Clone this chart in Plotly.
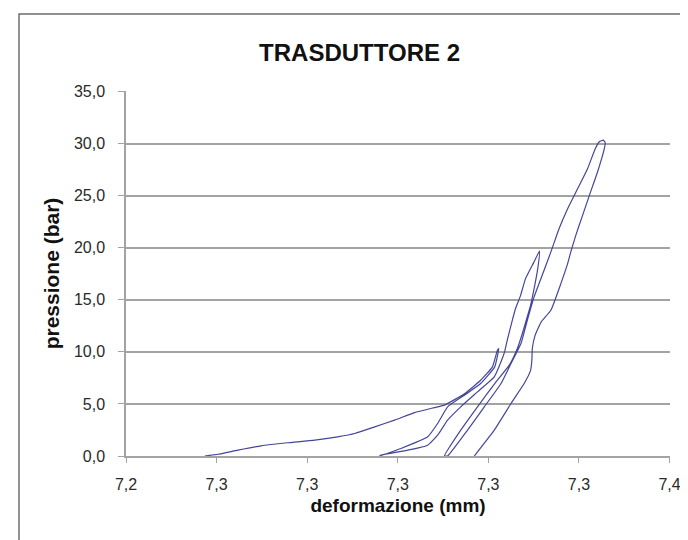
import plotly.graph_objects as go

# ---- data (deformazione in mm, pressione in bar) ----
load1_x = [7.2574, 7.2603, 7.2647, 7.2698, 7.2757, 7.2817, 7.2867, 7.2905, 7.2949,
           7.2993, 7.3037, 7.3077, 7.3103, 7.3148, 7.3183, 7.3209, 7.3220, 7.3223]
load1_y = [0.00, 0.17, 0.56, 0.98, 1.27, 1.52, 1.84, 2.16, 2.80,
           3.44, 4.17, 4.61, 4.88, 6.00, 7.27, 8.56, 10.15, 10.32]

unload1_x = [7.3214, 7.3183, 7.3147, 7.3110, 7.3088, 7.3066, 7.3007, 7.2960]
unload1_y = [8.56, 6.96, 5.84, 4.72, 3.12, 1.84, 0.72, 0.00]

load2_x = [7.2963, 7.3022, 7.3066, 7.3088, 7.3110, 7.3139, 7.3176, 7.3213, 7.3229,
           7.3236, 7.3242, 7.3251, 7.3260, 7.3271, 7.3282, 7.3300, 7.3313]
load2_y = [0.08, 0.56, 1.04, 2.00, 3.44, 4.72, 6.16, 7.60, 9.17,
           10.03, 11.18, 12.72, 14.16, 15.40, 17.03, 18.57, 19.67]

unload2_x = [7.3309, 7.3301, 7.3293, 7.3284, 7.3275, 7.3264, 7.3247, 7.3214, 7.3176, 7.3139, 7.3103]
unload2_y = [17.99, 16.07, 14.44, 13.10, 11.76, 10.32, 8.78, 6.96, 4.72, 2.48, 0.00]

load3_x = [7.3110, 7.3154, 7.3191, 7.3228, 7.3250, 7.3272, 7.3286, 7.3301, 7.3323,
           7.3339, 7.3356, 7.3375, 7.3397, 7.3419, 7.3436, 7.3445, 7.3454]
load3_y = [0.00, 2.48, 4.72, 6.96, 8.88, 10.80, 13.03, 15.28, 17.83,
           19.72, 21.83, 23.75, 25.67, 27.59, 29.51, 30.18, 30.33]

unload3_x = [7.3458, 7.3456, 7.3441, 7.3423, 7.3408, 7.3393, 7.3382, 7.3375, 7.3360, 7.3338,
             7.3317, 7.3303, 7.3297, 7.3296, 7.3293, 7.3279, 7.3250, 7.3213, 7.3169]
unload3_y = [30.08, 29.51, 27.27, 25.03, 23.11, 21.19, 19.60, 18.47, 16.55, 13.99,
             12.90, 11.56, 10.32, 9.17, 8.20, 6.96, 5.04, 2.48, 0.00]

x_tickvals = [7.24, 7.26, 7.28, 7.30, 7.32, 7.34, 7.36]
x_ticktext = ["7,2", "7,3", "7,3", "7,3", "7,3", "7,3", "7,4"]
y_tickvals = [0, 5, 10, 15, 20, 25, 30, 35]
y_ticktext = ["0,0", "5,0", "10,0", "15,0", "20,0", "25,0", "30,0", "35,0"]

title_text = "TRASDUTTORE 2"
x_title = "deformazione (mm)"
y_title = "pressione (bar)"

# one continuous series, as in the original spreadsheet
xs = load1_x + unload1_x + load2_x + unload2_x + load3_x + unload3_x
ys = load1_y + unload1_y + load2_y + unload2_y + load3_y + unload3_y

FONT = "Liberation Sans, Arial, Helvetica, sans-serif"
GRID = "#a3a3a3"

fig = go.Figure()
fig.add_trace(go.Scatter(
    x=xs, y=ys, mode="lines",
    line=dict(color="#44469a", width=1.2, shape="spline", smoothing=0.4),
    showlegend=False, hoverinfo="x+y",
))

fig.update_layout(
    width=688, height=540,
    margin=dict(l=118, r=26, t=83, b=92),
    paper_bgcolor="white", plot_bgcolor="white",
    font=dict(family=FONT, color="#111111"),
    title=dict(text="<b>" + title_text + "</b>", x=0.511, xref="container", xanchor="center",
               y=0.918, yref="container", yanchor="middle",
               font=dict(family=FONT, size=24, color="#111111")),
    xaxis=dict(
        range=[7.24, 7.3601], tickmode="array", tickvals=x_tickvals, ticktext=x_ticktext,
        showgrid=False, zeroline=False, showline=True, linecolor=GRID, linewidth=1.5,
        ticks="outside", ticklen=5, tickcolor=GRID, tickwidth=1.2,
        ticklabelstandoff=8,
        tickfont=dict(family=FONT, size=16, color="#2a2a2a"),
        title=dict(text="<b>" + x_title + "</b>", standoff=7,
                   font=dict(family=FONT, size=19, color="#111111")),
    ),
    yaxis=dict(
        range=[0, 35.05], tickmode="array", tickvals=y_tickvals, ticktext=y_ticktext,
        showgrid=True, gridcolor=GRID, gridwidth=1.5, zeroline=False,
        showline=True, linecolor=GRID, linewidth=1.5,
        ticks="outside", ticklen=6, tickcolor=GRID, tickwidth=1.2,
        ticklabelstandoff=10,
        tickfont=dict(family=FONT, size=16, color="#2a2a2a"),
        title=dict(text="<b>" + y_title + "</b>", standoff=9,
                   font=dict(family=FONT, size=21, color="#111111")),
    ),
    shapes=[dict(type="rect", xref="paper", yref="paper",
                 x0=-0.1967, x1=1.046, y0=-0.2411, y1=1.211,
                 line=dict(color="#6e6e6e", width=1.5), fillcolor="rgba(0,0,0,0)",
                 layer="below")],
)

fig.write_html("out.html")
